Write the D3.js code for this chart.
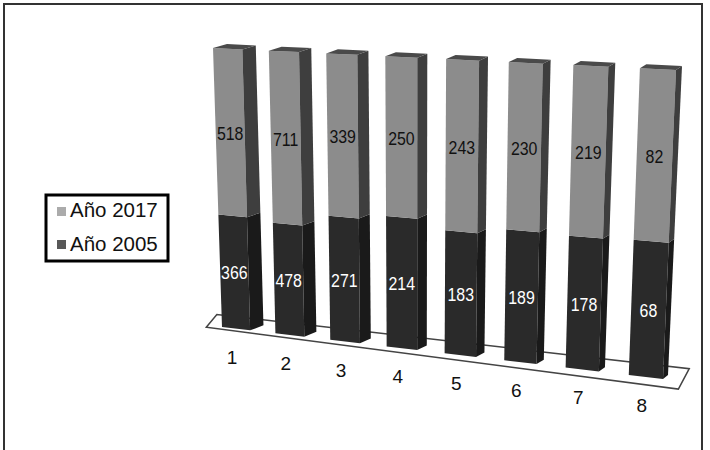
<!DOCTYPE html>
<html>
<head>
<meta charset="utf-8">
<script src="https://cdn.jsdelivr.net/npm/d3@7"></script>
<style>
  body { margin: 0; background: #fff; }
  svg { display: block; font-family: "Liberation Sans", Arial, sans-serif; }
</style>
</head>
<body>
<div id="chart"></div>
<script>
const categories = ["1", "2", "3", "4", "5", "6", "7", "8"];
const anio2005 = [366, 478, 271, 214, 183, 189, 178, 68];
const anio2017 = [518, 711, 339, 250, 243, 230, 219, 82];
const seriesKeys = ["Año 2005", "Año 2017"];
const legendOrder = ["Año 2017", "Año 2005"];

const width = 710, height = 450;

const svg = d3.select("#chart")
    .append("svg")
    .attr("width", width)
    .attr("height", height);

// outer frame (bottom runs off the picture)
svg.append("rect")
    .attr("x", 4).attr("y", 4)
    .attr("width", 698).attr("height", 470)
    .attr("fill", "none")
    .attr("stroke", "#333")
    .attr("stroke-width", 2);

const data = categories.map((c, i) => ({cat: c, "Año 2005": anio2005[i], "Año 2017": anio2017[i]}));
const stacked = d3.stack().keys(seriesKeys).offset(d3.stackOffsetExpand)(data);

// u: across the categories, v: share of the total, w: depth of the bar
const x = d3.scaleBand().domain(categories).range([0, 1]).paddingInner(0.47).paddingOuter(0);
const y = d3.scaleLinear().domain([0, 1]).range([0, 1]);

// perspective: map the unit square onto a screen quad [bl, br, tr, tl]
function homography(q) {
    const [x0, y0] = q[0], [x1, y1] = q[1], [x2, y2] = q[2], [x3, y3] = q[3];
    const dx1 = x1 - x2, dx2 = x3 - x2, dx3 = x0 - x1 + x2 - x3;
    const dy1 = y1 - y2, dy2 = y3 - y2, dy3 = y0 - y1 + y2 - y3;
    const den = dx1 * dy2 - dx2 * dy1;
    const g = (dx3 * dy2 - dx2 * dy3) / den;
    const h = (dx1 * dy3 - dx3 * dy1) / den;
    const a = x1 - x0 + g * x1, b = x3 - x0 + h * x3, c = x0;
    const d = y1 - y0 + g * y1, e = y3 - y0 + h * y3, f = y0;
    return (u, v) => {
        const z = g * u + h * v + 1;
        return [(a * u + b * v + c) / z, (d * u + e * v + f) / z];
    };
}
const front = homography([[222, 327], [663, 379], [676, 70], [213, 48]]);
const back = homography([[236, 322], [668, 375], [682, 66], [227, 44]]);
function proj(u, v, w) {
    const p = front(u, v), q = back(u, v);
    return [p[0] + (q[0] - p[0]) * w, p[1] + (q[1] - p[1]) * w];
}
const poly = pts => "M" + pts.map(p => p.join(",")).join("L") + "Z";

// floor
const floorCorners = [[-0.04, -0.008], [-0.012, 0.045], [1.052, 0.045], [1.032, -0.028]];
svg.append("path")
    .attr("d", poly(floorCorners.map(c => front(c[0], c[1]))))
    .attr("fill", "#fff")
    .attr("stroke", "#444")
    .attr("stroke-width", 1.5);

const faceColors = {
    "Año 2005": {front: "#2a2a2a", side: "#1a1a1a", top: "#333"},
    "Año 2017": {front: "#8c8c8c", side: "#3e3e3e", top: "#4a4a4a"}
};

const bars = svg.append("g");
stacked.forEach(s => {
    const col = faceColors[s.key];
    s.forEach(d => {
        const u0 = x(d.data.cat), u1 = u0 + x.bandwidth();
        const v0 = y(d[0]), v1 = y(d[1]);
        // front
        bars.append("path")
            .attr("d", poly([proj(u0, v0, 0), proj(u1, v0, 0), proj(u1, v1, 0), proj(u0, v1, 0)]))
            .attr("fill", col.front);
        // right side
        bars.append("path")
            .attr("d", poly([proj(u1, v0, 0), proj(u1, v0, 1), proj(u1, v1, 1), proj(u1, v1, 0)]))
            .attr("fill", col.side);
        // top
        if (d[1] >= 1) {
            bars.append("path")
                .attr("d", poly([proj(u0, v1, 0), proj(u1, v1, 0), proj(u1, v1, 1), proj(u0, v1, 1)]))
                .attr("fill", col.top);
        }
    });
});

// value labels
stacked.forEach(s => {
    s.forEach(d => {
        const uc = x(d.data.cat) + x.bandwidth() / 2;
        const p = proj(uc, y((d[0] + d[1]) / 2), 0);
        svg.append("text")
            .attr("transform", `translate(${p[0]},${p[1]}) scale(0.86,1)`)
            .attr("text-anchor", "middle")
            .attr("dy", "0.36em")
            .attr("font-size", 18.5)
            .attr("fill", s.key === "Año 2005" ? "#fff" : "#111")
            .text(d.data[s.key]);
    });
});

// category labels
categories.forEach(c => {
    const p = proj(x(c) + x.bandwidth() / 2, 0, 0);
    svg.append("text")
        .attr("x", p[0] - 4)
        .attr("y", p[1] + 35)
        .attr("text-anchor", "middle")
        .attr("font-size", 19)
        .attr("fill", "#111")
        .text(c);
});

// legend
const legendColor = d3.scaleOrdinal().domain(legendOrder).range(["#ababab", "#585858"]);
const legend = svg.append("g");
legend.append("rect")
    .attr("x", 46).attr("y", 195)
    .attr("width", 122).attr("height", 66)
    .attr("fill", "#fff")
    .attr("stroke", "#000")
    .attr("stroke-width", 3);
legendOrder.forEach((k, i) => {
    legend.append("rect")
        .attr("x", 57).attr("y", 207 + i * 33)
        .attr("width", 9).attr("height", 9)
        .attr("fill", legendColor(k));
    legend.append("text")
        .attr("x", 70).attr("y", 216.5 + i * 34)
        .attr("font-size", 20.5)
        .attr("fill", "#111")
        .text(k);
});
</script>
</body>
</html>
